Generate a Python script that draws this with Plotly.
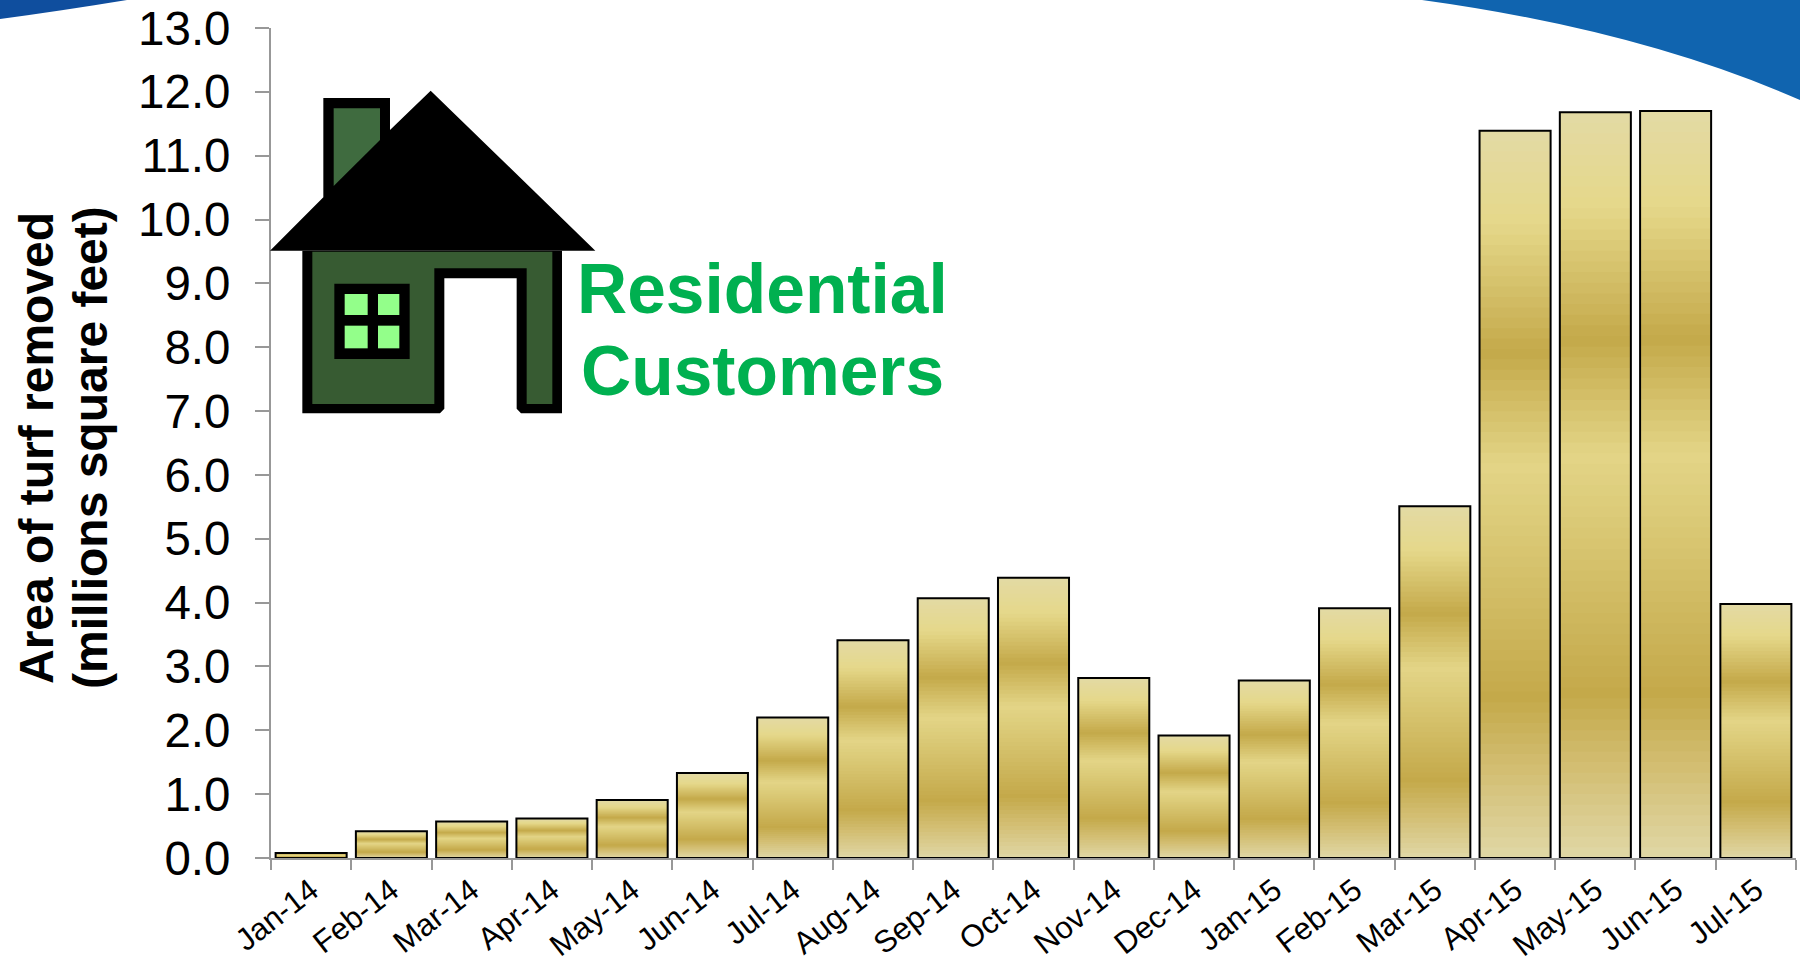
import plotly.graph_objects as go

months = ["Jan-14", "Feb-14", "Mar-14", "Apr-14", "May-14", "Jun-14", "Jul-14", "Aug-14", "Sep-14", "Oct-14",
          "Nov-14", "Dec-14", "Jan-15", "Feb-15", "Mar-15", "Apr-15", "May-15", "Jun-15", "Jul-15"]
area_removed = [0.08, 0.42, 0.57, 0.62, 0.91, 1.33, 2.20, 3.41, 4.07, 4.39,
                2.82, 1.92, 2.78, 3.91, 5.51, 11.39, 11.68, 11.70, 3.98]
y_ticks = [float(v) for v in range(14)]

WIDTH, HEIGHT = 1800, 962
LEFT, RIGHT, TOP, BOTTOM = 271, 1796, 28, 858

# Metallic gold ramp, measured downward from the top of each bar
GOLD_STOPS = [(0.00, (227, 218, 165)), (0.126, (229, 216, 138)), (0.305, (196, 169, 74)),
              (0.46, (227, 213, 135)), (0.78, (196, 169, 74)), (0.88, (211, 190, 115)),
              (1.00, (224, 216, 166))]
BANDS = 70


def gold_at(t):
    for (t0, c0), (t1, c1) in zip(GOLD_STOPS, GOLD_STOPS[1:]):
        if t <= t1:
            k = (t - t0) / (t1 - t0)
            return "rgb(%d,%d,%d)" % tuple(round(a + (b - a) * k) for a, b in zip(c0, c1))
    return "rgb(224,216,166)"


def px(x):
    return (x - LEFT) / (RIGHT - LEFT)


def py(y):
    return (BOTTOM - y) / (BOTTOM - TOP)


def poly(points, color):
    """Filled polygon given in page pixels."""
    path = "M" + " L".join(f"{px(x):.5f},{py(y):.5f}" for x, y in points) + " Z"
    return dict(type="path", xref="paper", yref="paper", path=path, fillcolor=color,
                line=dict(width=0), layer="above")


def house(u, v):
    return (240 + u / 3, 70 + v / 3)


def hpoly(points, color):
    return poly([house(u, v) for u, v in points], color)


fig = go.Figure()

# Each bar is painted as overlapping bands, bottom band first, to build the vertical gradient
for i in range(BANDS):
    start = i / BANDS
    fig.add_trace(go.Bar(
        x=months,
        y=[v * (1 - start) for v in area_removed],
        base=[v * start for v in area_removed],
        width=0.885,
        marker=dict(color=gold_at(1 - (i + 0.5) / BANDS), line=dict(width=0)),
        hoverinfo="skip",
        showlegend=False,
    ))

# Outline on top of the gradient
fig.add_trace(go.Bar(
    x=months,
    y=area_removed,
    width=0.885,
    marker=dict(color="rgba(0,0,0,0)", line=dict(color="#000000", width=2)),
    showlegend=False,
))

shapes = [
    # Blue header swooshes in the top corners
    dict(type="path", xref="paper", yref="paper", fillcolor="#1064AF", line=dict(width=0), layer="below",
         path=f"M{px(1422):.5f},{py(0):.5f} Q{px(1640):.5f},{py(30):.5f} {px(1800):.5f},{py(100):.5f} "
              f"L{px(1800):.5f},{py(0):.5f} Z"),
    dict(type="path", xref="paper", yref="paper", fillcolor="#0F4E9E", line=dict(width=0), layer="below",
         path=f"M{px(0):.5f},{py(19):.5f} Q{px(60):.5f},{py(11):.5f} {px(127):.5f},{py(0):.5f} "
              f"L{px(0):.5f},{py(0):.5f} Z"),
    # House icon: chimney, roof, walls with door opening, window
    hpoly([(250, 84), (450, 84), (450, 180), (572, 62), (1066, 542), (90, 542), (250, 382)], "#000000"),
    hpoly([(281, 115), (420, 115), (420, 210), (281, 348)], "#3F6B3F"),
    hpoly([(187, 542), (966, 542), (966, 1030), (843, 1030), (830, 1016), (830, 625), (613, 625),
           (613, 1016), (600, 1030), (187, 1030)], "#000000"),
    hpoly([(217, 545), (937, 545), (937, 1002), (860, 1002), (860, 595), (583, 595), (583, 1002),
           (217, 1002)], "#375B32"),
    hpoly([(283, 641), (509, 641), (509, 867), (283, 867)], "#000000"),
    hpoly([(314, 672), (383, 672), (383, 735), (314, 735)], "#93FF8A"),
    hpoly([(414, 672), (478, 672), (478, 735), (414, 735)], "#93FF8A"),
    hpoly([(314, 767), (383, 767), (383, 835), (314, 835)], "#93FF8A"),
    hpoly([(414, 767), (478, 767), (478, 835), (414, 835)], "#93FF8A"),
]

annotations = [
    dict(text="<b>Area of turf removed</b>", x=px(36), y=py(448), textangle=-90,
         font=dict(size=48, color="#000000")),
    dict(text="<b>(millions square feet)</b>", x=px(90), y=py(448), textangle=-90,
         font=dict(size=48, color="#000000")),
    dict(text="<b>Residential</b>", x=px(762), y=py(289), font=dict(size=69.5, color="#00B050")),
    dict(text="<b>Customers</b>", x=px(762), y=py(371), font=dict(size=69.5, color="#00B050")),
]
for a in annotations:
    a.update(xref="paper", yref="paper", showarrow=False, xanchor="center", yanchor="middle")

fig.update_layout(
    width=WIDTH,
    height=HEIGHT,
    margin=dict(l=LEFT, r=WIDTH - RIGHT, t=TOP, b=HEIGHT - BOTTOM, pad=0, autoexpand=False),
    paper_bgcolor="#FFFFFF",
    plot_bgcolor="rgba(0,0,0,0)",
    barmode="overlay",
    font=dict(family="Liberation Sans, Arial, sans-serif", color="#000000"),
    shapes=shapes,
    annotations=annotations,
    xaxis=dict(
        type="category",
        categoryorder="array",
        categoryarray=months,
        range=[-0.5, 18.5],
        automargin=False,
        tickson="boundaries",
        ticks="outside",
        ticklen=10,
        tickwidth=2,
        tickcolor="#989898",
        showline=True,
        linecolor="#989898",
        linewidth=2,
        showgrid=False,
        tickangle=-38,
        tickfont=dict(size=31, color="#000000"),
    ),
    yaxis=dict(
        range=[0, 13],
        automargin=False,
        tickmode="array",
        tickvals=y_ticks,
        ticktext=[f"{v:.1f}" for v in y_ticks],
        ticks="outside",
        ticklen=14,
        tickwidth=2,
        tickcolor="#989898",
        showline=True,
        linecolor="#989898",
        linewidth=2,
        showgrid=False,
        zeroline=False,
        tickfont=dict(size=47.5, color="#000000"),
        ticklabelstandoff=15,
    ),
)

fig.write_html("out.html")
